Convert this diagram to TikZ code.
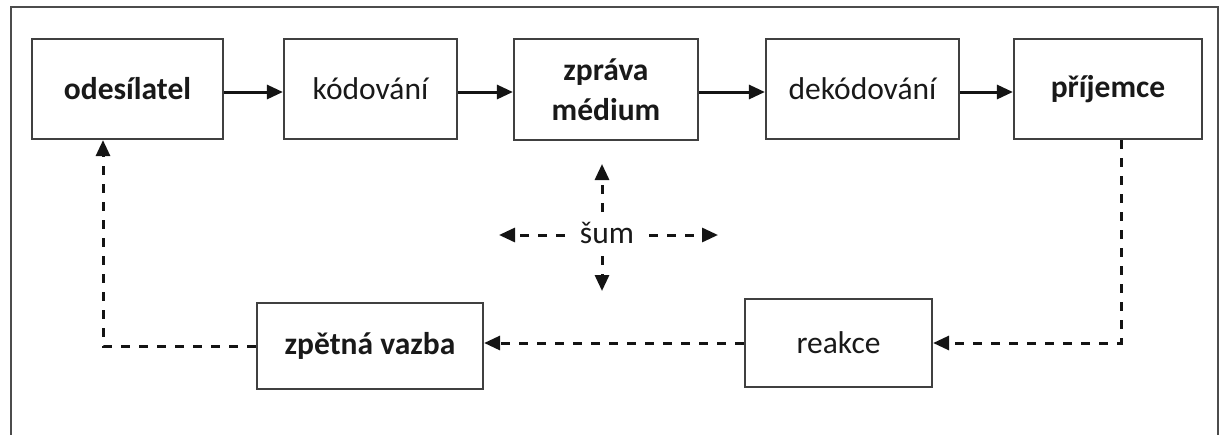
\documentclass[tikz,border=0pt]{standalone}
\usepackage{fontspec}
\setmainfont{Carlito}
\usetikzlibrary{arrows.meta}
\begin{document}
\begin{tikzpicture}[x=1pt,y=-1pt,
  box/.style={draw=black!75, line width=2.2pt, fill=white, inner sep=0pt,
    align=center, font=\fontsize{31.5}{40}\selectfont, text=black!90},
  bbox/.style={box, font=\fontsize{31.5}{40}\selectfont\bfseries},
  conn/.style={line width=3pt, draw=black!92, -{Triangle[length=16pt,width=14pt]}},
  dconn/.style={conn, dash pattern=on 9pt off 9pt}]
\useasboundingbox (0,0) rectangle (1226,434);
\draw[line width=1.8pt, black!70] (11,436) -- (11,7) -- (1218,7) -- (1218,436);
% top row
\node[bbox, minimum width=191pt, minimum height=100pt] (ode) at (127.5,89) {odesílatel};
\node[box,  minimum width=173pt, minimum height=100pt] (kod) at (370.5,89) {kódování};
\node[bbox, minimum width=184pt, minimum height=101pt] (zpr) at (606,89.5) {zpráva\\médium};
\node[box,  minimum width=193pt, minimum height=100pt] (dek) at (862.5,89) {dekódování};
\node[bbox, minimum width=188pt, minimum height=100pt] (pri) at (1108,89) {příjemce};
% bottom row
\node[bbox, minimum width=226pt, minimum height=86pt] (zpe) at (370,346) {zpětná vazba};
\node[box,  minimum width=187pt, minimum height=88pt] (rea) at (838.5,343) {reakce};
% noise
\node[font=\fontsize{31.5}{40}\selectfont, text=black!90, inner sep=0pt] (sum) at (607,233) {šum};
\coordinate (su1) at (602,212);
\coordinate (su2) at (602,164);
\coordinate (sd1) at (602,256);
\coordinate (sd2) at (602,291);
\coordinate (sl1) at (565,235);
\coordinate (sl2) at (499,235);
\coordinate (sr1) at (649,235);
\coordinate (sr2) at (718,235);
% solid arrows
\draw[conn] ([yshift=-3pt]ode.east) -- ([yshift=-3pt]kod.west);
\draw[conn] ([yshift=-3pt]kod.east) -- ([yshift=-3pt]kod.east -| zpr.west);
\draw[conn] ([yshift=-3pt]dek.west -| zpr.east) -- ([yshift=-3pt]dek.west);
\draw[conn] ([yshift=-3pt]dek.east) -- ([yshift=-3pt]pri.west);
% feedback loop
\draw[dconn] ([xshift=13pt]pri.south) |- (rea.east);
\draw[dconn] (rea.west) -- (rea.west -| zpe.east);
\draw[dconn] (zpe.west) -| ([xshift=-24.5pt]ode.south);
% noise arrows
\draw[dconn] (su1) -- (su2);
\draw[dconn] (sd1) -- (sd2);
\draw[dconn] (sl1) -- (sl2);
\draw[dconn] (sr1) -- (sr2);
\end{tikzpicture}
\end{document}
